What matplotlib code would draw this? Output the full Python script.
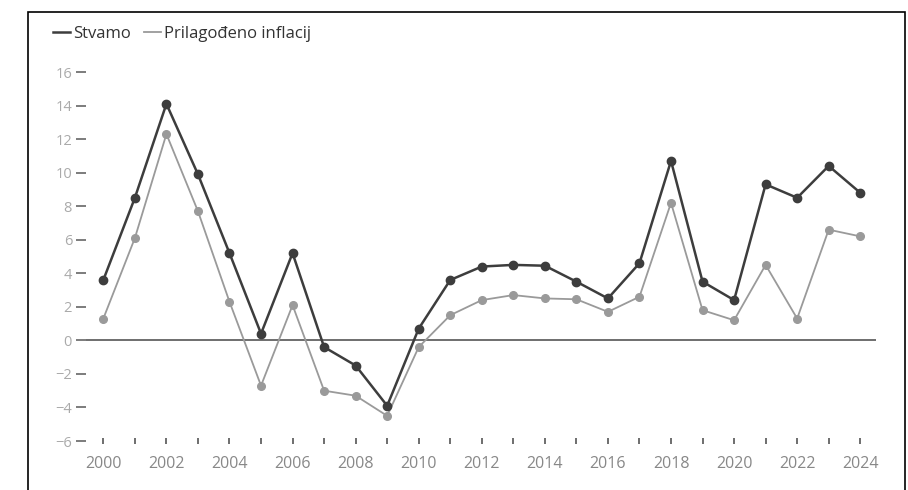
import numpy as np
import matplotlib.pyplot as plt
from matplotlib.patches import Rectangle
from matplotlib.lines import Line2D
from matplotlib.ticker import MultipleLocator

# --- dados ---
godine = list(range(2000, 2025))
stvamo = [3.6, 8.5, 14.1, 9.9, 5.2, 0.4, 5.2, -0.4, -1.5, -3.9, 0.7, 3.6, 4.4,
          4.5, 4.45, 3.5, 2.5, 4.6, 10.7, 3.5, 2.4, 9.3, 8.5, 10.4, 8.8]
prilagodeno = [1.3, 6.1, 12.3, 7.7, 2.3, -2.7, 2.1, -3.0, -3.3, -4.5, -0.4, 1.5, 2.4,
               2.7, 2.5, 2.45, 1.7, 2.6, 8.2, 1.8, 1.2, 4.5, 1.3, 6.6, 6.2]
y_ticks = list(range(-6, 17, 2))
x_labels = list(range(2000, 2025, 2))

plt.rcParams['font.family'] = ['Open Sans', 'DejaVu Sans']

fig = plt.figure(figsize=(9.08, 4.9), dpi=100)
ax = fig.add_axes([86 / 908, 1 - 441 / 490, (876 - 86) / 908, (441 - 72) / 490])

ax.plot(godine, stvamo, color='#3d3d3d', lw=1.8, marker='o', ms=6,
        label='Stvamo', zorder=3)
ax.plot(godine, prilagodeno, color='#9a9a9a', lw=1.3, marker='o', ms=5.5,
        label='Prilagođeno inflacij', zorder=2)
ax.axhline(0, color='#555555', lw=1.2, zorder=1)

ax.set_xlim(1999.45, 2024.5)
ax.set_ylim(-6, 16)
ax.set_yticks(y_ticks)
ax.set_xticks(x_labels)
ax.xaxis.set_minor_locator(MultipleLocator(1))
for s in ax.spines.values():
    s.set_visible(False)
ax.tick_params(axis='y', length=7, width=1.2, color='#666666', labelcolor='#aaaaaa',
               labelsize=10.5, pad=3)
ax.tick_params(axis='x', which='both', direction='inout', length=5, width=1.2,
               color='#555555', labelcolor='#888888', labelsize=11.5, pad=8)

labels = ['Stvamo', 'Prilagođeno inflacij']
h = [Line2D([], [], color='#3d3d3d', lw=1.8), Line2D([], [], color='#9a9a9a', lw=1.3)]
fig.legend(h, labels, loc='upper left', bbox_to_anchor=(38 / 908, 1 - 11 / 490),
           ncol=2, frameon=False, fontsize=12, handlelength=1.0, handletextpad=0.2,
           columnspacing=0.8, labelcolor='#333333')

# okvir slike
fig.patches.append(Rectangle((28 / 908, -0.1), (905 - 28) / 908, 1.1 - 12 / 490,
                             transform=fig.transFigure, fill=False, ec='black', lw=1.2))

fig.savefig('out.png', dpi=100)
